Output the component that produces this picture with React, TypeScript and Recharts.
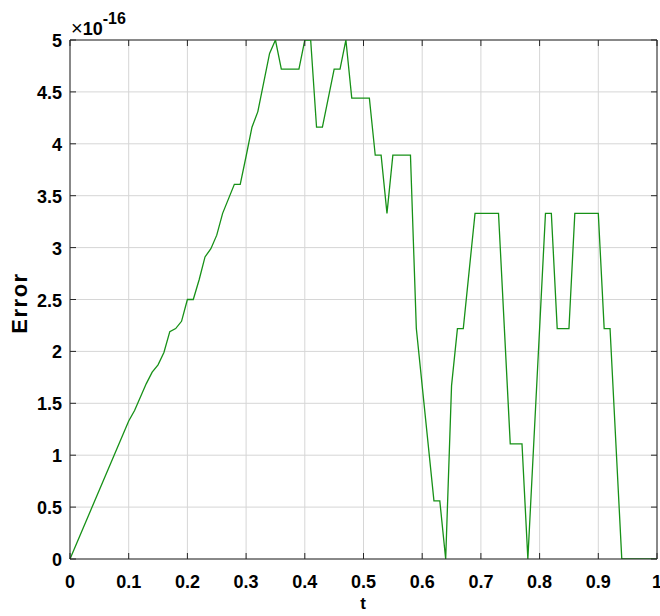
import React from 'react';
import { LineChart, Line, XAxis, YAxis, CartesianGrid, Label, ReferenceLine } from 'recharts';

// error (in units of 1e-16) against t
const tValues = [
  0, 0.1, 0.11, 0.13, 0.14, 0.15, 0.16, 0.17, 0.18, 0.19, 0.2, 0.21, 0.22, 0.23, 0.24, 0.25,
  0.26, 0.28, 0.29, 0.3, 0.31, 0.32, 0.34, 0.35, 0.36, 0.39, 0.4, 0.41, 0.42, 0.43, 0.45,
  0.46, 0.47, 0.48, 0.51, 0.52, 0.53, 0.54, 0.55, 0.58, 0.59, 0.62, 0.63, 0.64, 0.65, 0.66,
  0.67, 0.69, 0.73, 0.75, 0.77, 0.78, 0.81, 0.82, 0.83, 0.85, 0.86, 0.9, 0.91, 0.92, 0.94, 1,
];
const errorValues = [
  0, 1.33, 1.43, 1.69, 1.8, 1.87, 1.99, 2.19, 2.22, 2.29, 2.5, 2.5, 2.69, 2.91, 2.99, 3.12,
  3.33, 3.61, 3.61, 3.88, 4.16, 4.31, 4.87, 5, 4.72, 4.72, 5, 5, 4.16, 4.16, 4.72,
  4.72, 5, 4.44, 4.44, 3.89, 3.89, 3.33, 3.89, 3.89, 2.22, 0.56, 0.56, 0, 1.67, 2.22,
  2.22, 3.33, 3.33, 1.11, 1.11, 0, 3.33, 3.33, 2.22, 2.22, 3.33, 3.33, 2.22, 2.22, 0, 0,
];

const xTicks = [0, 0.1, 0.2, 0.3, 0.4, 0.5, 0.6, 0.7, 0.8, 0.9, 1];
const yTicks = [0, 0.5, 1, 1.5, 2, 2.5, 3, 3.5, 4, 4.5, 5];

const data = tValues.map((t, i) => ({ t, error: errorValues[i] }));

const FONT = '"Liberation Sans", Arial, sans-serif';
const AXIS = '#262626';
const TICK = 6;
// plot box edges, from the margins below
const PLOT_TOP = 40;
const PLOT_RIGHT = 657;

// bottom ticks also draw the matching inward tick on the top edge
const BottomTick = ({ x, y, payload }: any) => (
  <g>
    <line x1={x} y1={y} x2={x} y2={y - TICK} stroke={AXIS} />
    <line x1={x} y1={PLOT_TOP} x2={x} y2={PLOT_TOP + TICK} stroke={AXIS} />
    <text x={x} y={y + 29} textAnchor="middle" fontFamily={FONT} fontWeight="bold" fontSize={18} fill="#000">
      {String(payload.value)}
    </text>
  </g>
);

// left ticks also draw the matching inward tick on the right edge
const LeftTick = ({ x, y, payload }: any) => (
  <g>
    <line x1={x} y1={y} x2={x + TICK} y2={y} stroke={AXIS} />
    <line x1={PLOT_RIGHT} y1={y} x2={PLOT_RIGHT - TICK} y2={y} stroke={AXIS} />
    <text x={x - 8} y={y + 7} textAnchor="end" fontFamily={FONT} fontWeight="bold" fontSize={18} fill="#000">
      {String(payload.value)}
    </text>
  </g>
);

export default function App() {
  return (
    <div style={{ position: 'absolute', left: 0, top: 0, background: '#fff' }}>
      <LineChart width={660} height={616} data={data} margin={{ top: 40, right: 3, bottom: 7, left: 0 }}>
        <CartesianGrid stroke="#d6d6d6" strokeWidth={1} horizontalValues={yTicks} verticalValues={xTicks} />
        <XAxis
          dataKey="t"
          type="number"
          domain={[0, 1]}
          ticks={xTicks}
          height={50}
          tickSize={0}
          tickMargin={0}
          tick={<BottomTick />}
          axisLine={{ stroke: AXIS }}
          tickLine={false}
          interval={0}
        >
          <Label
            content={() => (
              <text x={363} y={609} textAnchor="middle" fontFamily={FONT} fontWeight="bold" fontSize={17} fill="#000">
                t
              </text>
            )}
          />
        </XAxis>
        <YAxis
          type="number"
          domain={[0, 5]}
          ticks={yTicks}
          width={70}
          tickSize={0}
          tickMargin={0}
          tick={<LeftTick />}
          axisLine={{ stroke: AXIS }}
          tickLine={false}
          interval={0}
          allowDataOverflow
        >
          <Label
            content={() => (
              <g>
                <text
                  x={27}
                  y={303}
                  transform="rotate(-90 27 303)"
                  textAnchor="middle"
                  fontFamily={FONT}
                  fontWeight="bold"
                  fontSize={22}
                  letterSpacing={1.5}
                  fill="#000"
                >
                  Error
                </text>
                <text x={71} y={35} fill="#000" style={{ fontFamily: FONT, fontSize: 18, fontWeight: 'bold' }}>
                  <tspan style={{ fontSize: 20, fontWeight: 'normal' }}>×</tspan>
                  <tspan style={{ fontSize: 18 }}>10</tspan>
                  <tspan style={{ fontSize: 16 }} dy={-11}>
                    -16
                  </tspan>
                </text>
              </g>
            )}
          />
        </YAxis>
        <ReferenceLine y={5} stroke={AXIS} />
        <ReferenceLine x={1} stroke={AXIS} />
        <Line
          type="linear"
          dataKey="error"
          stroke="#179117"
          strokeWidth={1.3}
          dot={false}
          activeDot={false}
          isAnimationActive={false}
        />
      </LineChart>
    </div>
  );
}
